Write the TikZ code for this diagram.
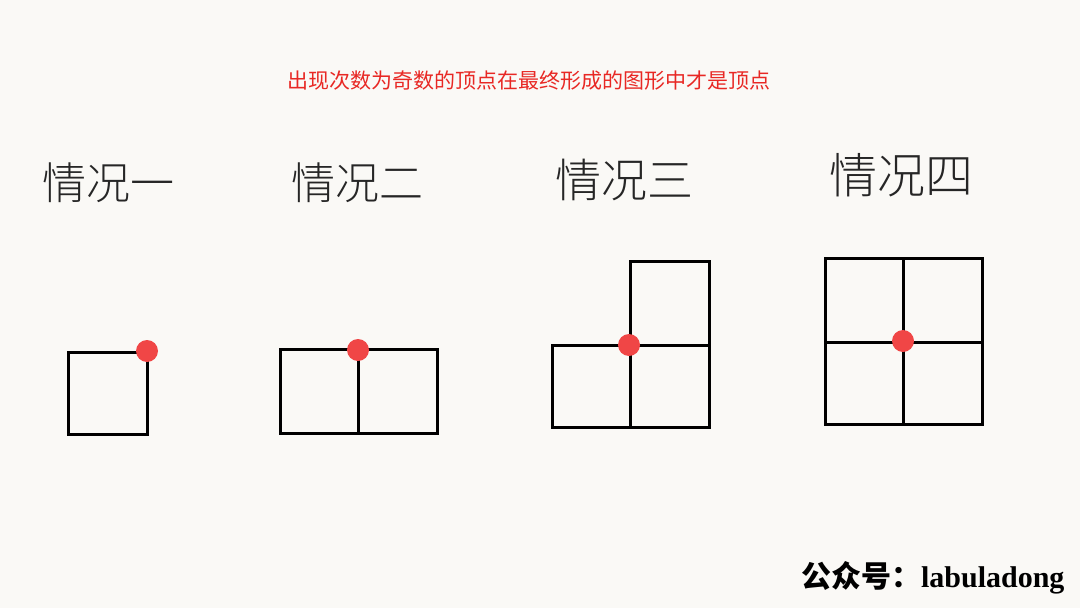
\documentclass[tikz,border=0pt]{standalone}
\usepackage{fontspec}
\setmainfont{Liberation Serif}
\newfontfamily\cjk{Noto Sans CJK SC}
\newfontfamily\cjklight{Noto Sans CJK SC Light}
\definecolor{paper}{RGB}{250,249,246}
\definecolor{dotred}{RGB}{240,70,70}
\definecolor{titlered}{RGB}{232,40,36}
\tikzset{
  box/.style={draw=black, line width=3pt, line join=miter},
  vert/.style={circle, fill=dotred, inner sep=0pt, minimum size=22pt},
  case/.style={font=\cjklight\fontsize{#1}{#1}\selectfont, text=black!85}
}

\begin{document}
\begin{tikzpicture}[x=1pt, y=-1pt]
            \fill[paper] (0,0) rectangle (1080,608);
            \useasboundingbox (0,0) rectangle (1080,608);
            \node [text=titlered, font=\cjk\fontsize{21}{25}\selectfont] (title) at (529,81) {出现次数为奇数的顶点在最终形成的图形中才是顶点};
            % case labels
            \node [case=44] (c1) at (108,183) {情况一};
            \node [case=44] (c2) at (357,183) {情况二};
            \node [case=46] (c3) at (624,180) {情况三};
            \node [case=48] (c4) at (901,175) {情况四};
            % squares
            \draw[box] (68,352) rectangle (147,434);
            \draw[box] (280,349) rectangle (437,433);
            \draw[box] (358,349) -- (358,433);
            \draw[box] (552,345) rectangle (709,427);
            \draw[box] (630,261) rectangle (709,427);
            \draw[box] (825,258) rectangle (982,424);
            \draw[box] (903,258) -- (903,424);
            \draw[box] (825,342) -- (982,342);
            % vertices
            \node [vert] (v1) at (147,351) {};
            \node [vert] (v2) at (358,350) {};
            \node [vert] (v3) at (629,345) {};
            \node [vert] (v4) at (903,341) {};
            \node [font=\fontsize{30}{34}\selectfont\bfseries, anchor=east] (sign) at (1068,578) {{\cjk 公众号：}labuladong};
      \end{tikzpicture}
\end{document}
